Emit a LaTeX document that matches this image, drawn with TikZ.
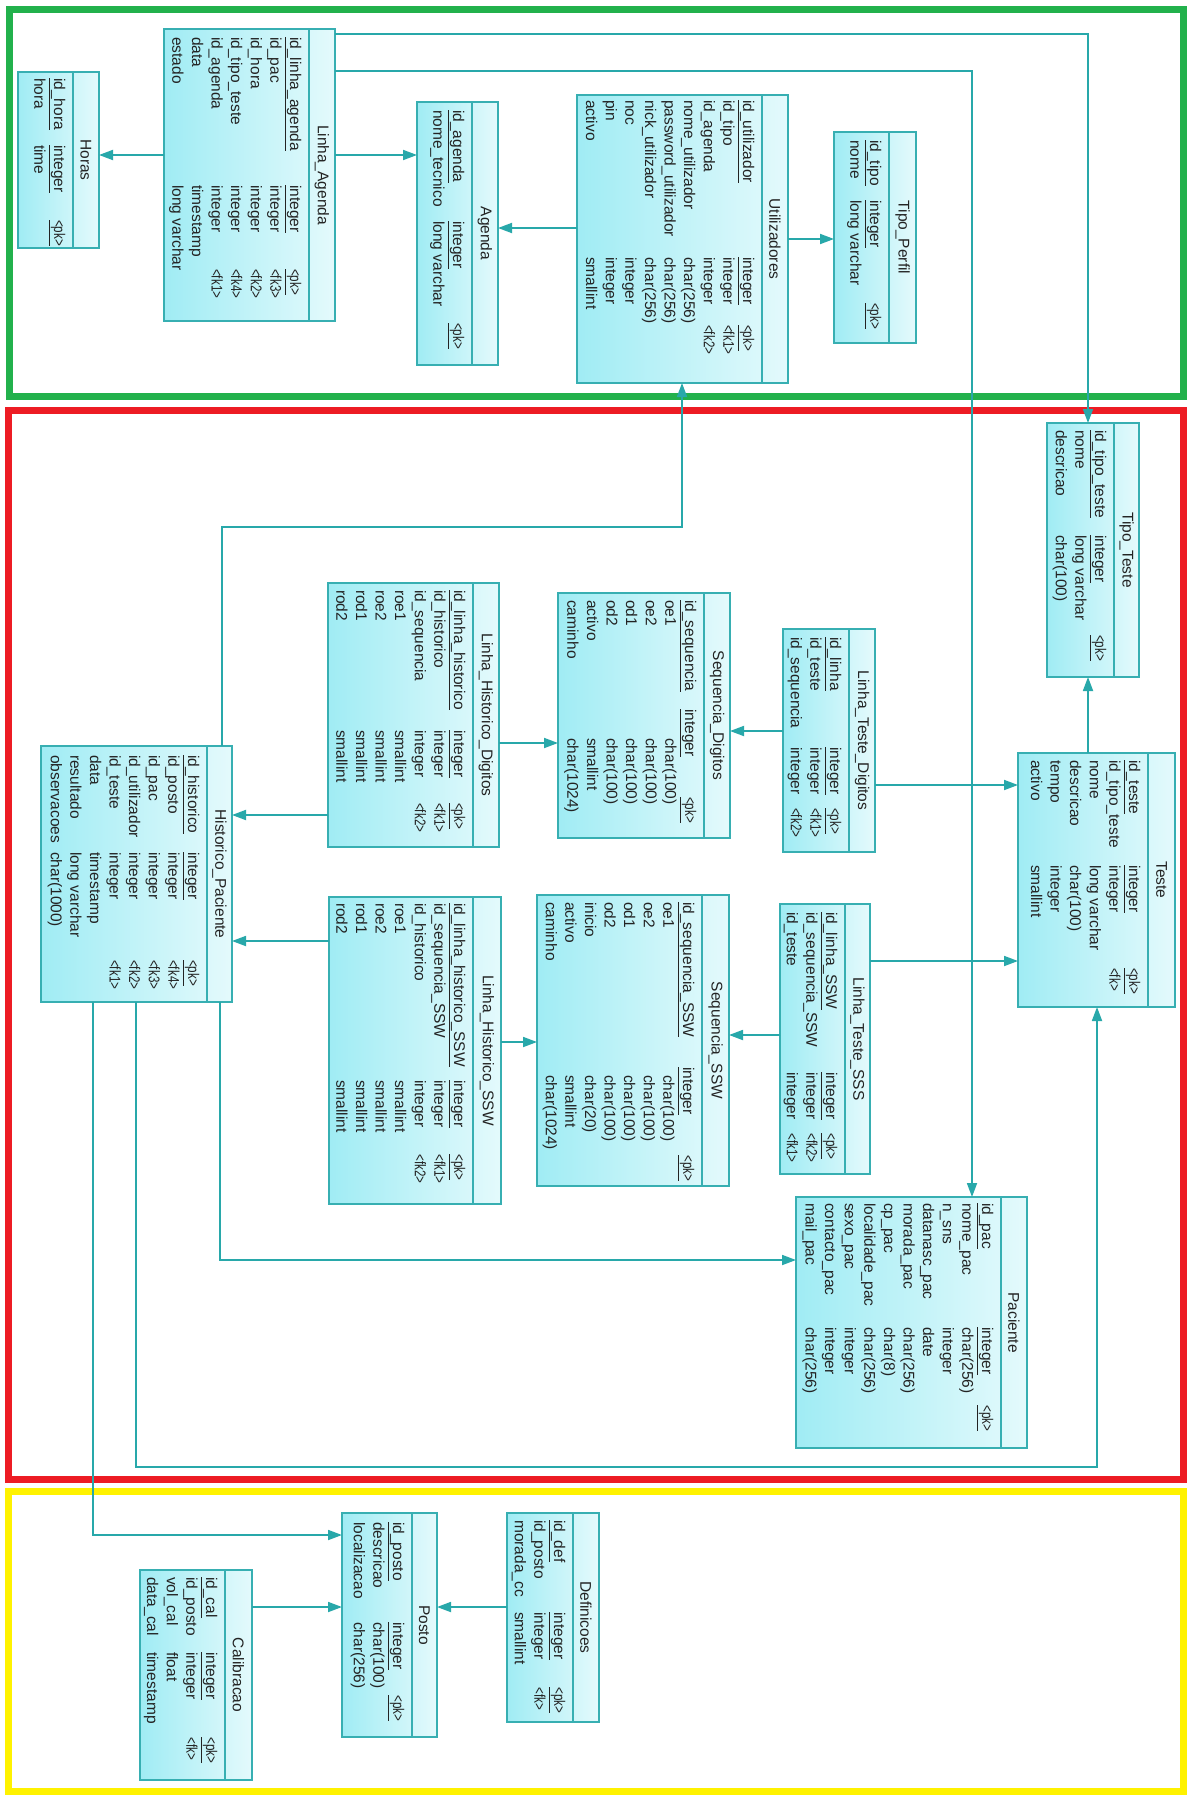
\documentclass[tikz,border=0pt]{standalone}
\usepackage{fontspec}
\setmainfont{Liberation Sans}
\usetikzlibrary{arrows.meta}
\definecolor{teal1}{RGB}{40,168,170}
\definecolor{boxedge}{RGB}{55,175,178}
\definecolor{fillA}{RGB}{160,236,244}
\definecolor{fillB}{RGB}{228,250,252}
\definecolor{frgreen}{RGB}{34,177,76}
\definecolor{frred}{RGB}{237,28,36}
\definecolor{fryellow}{RGB}{255,242,0}
\definecolor{txt}{RGB}{35,35,35}
\tikzset{
  ebox/.style={draw=boxedge, line width=1.6pt, left color=fillA, right color=fillB, inner sep=0pt, outer sep=0pt},
  sepline/.style={draw=boxedge, line width=1.6pt},
  ttl/.style={rotate=-90, inner sep=0pt, font=\fontsize{15.5}{18}\selectfont, text=txt},
  fld/.style={rotate=-90, anchor=west, inner sep=0pt, font=\fontsize{15.5}{18}\selectfont, text=txt, text height=11pt, text depth=3pt},
  conn/.style={draw=teal1, line width=1.8pt, -{Triangle[length=14pt,width=10pt]}},
  frameline/.style={line width=7pt},
}
\newcommand\ent[7]{%
  \node[ebox, minimum width={(#4-#2)*1pt}, minimum height={(#5-#3)*1pt}] (#1) at ({(#2+#4)/2},{-(#3+#5)/2}) {};
  \draw[sepline] (#6,-#3) -- (#6,-#5);
  \node[ttl] (#1-title) at ({(#6+#4)/2},{-(#3+#5)/2}) {#7};
  \xdef\eSx{#6}\xdef\eBn{#1}}
\newcommand\ecols[3]{\xdef\eCn{#1}\xdef\eCt{#2}\xdef\eCk{#3}}
\newcommand\erowx[1]{\pgfmathsetmacro\myrx{\eSx-15-19.6*(#1-1)}}
\newcommand\kk[1]{\scalebox{0.75}[1]{#1}}
\newcommand\rk[4]{%
  \erowx{#1}%
  \node[fld] (\eBn-#1n) at (\myrx,-\eCn) {#2};
  \node[fld] (\eBn-#1t) at (\myrx,-\eCt) {#3};
  \node[fld] (\eBn-#1k) at (\myrx,-\eCk) {\kk{#4}};}
\newcommand\rt[3]{%
  \erowx{#1}%
  \node[fld] (\eBn-#1n) at (\myrx,-\eCn) {#2};
  \node[fld] (\eBn-#1t) at (\myrx,-\eCt) {#3};}
\newcommand\rpk[2]{\rk{1}{\underline{#1}}{\underline{#2}}{\underline{<pk>}}}
\begin{document}
\begin{tikzpicture}[x=1pt,y=1pt]
\useasboundingbox (0,0) rectangle (1191,-1798);
\fill[white] (0,0) rectangle (1191,-1798);
% frames
\draw[frameline, frgreen] (9,-10) rectangle (1183,-396);
\draw[frameline, frred] (8,-410) rectangle (1183,-1479);
\draw[frameline, fryellow] (8,-1491) rectangle (1183,-1791);

% ---------- entities ----------
\ent{HO}{18}{72}{99}{248}{73}{Horas}
\ecols{78}{145}{220}
\rpk{id\_hora}{integer}
\rt{2}{hora}{time}

\ent{LA}{164}{29}{335}{321}{309}{Linha\_Agenda}
\ecols{37}{185}{269}
\rpk{id\_linha\_agenda}{integer}
\rk{2}{id\_pac}{integer}{<fk3>}
\rk{3}{id\_hora}{integer}{<fk2>}
\rk{4}{id\_tipo\_teste}{integer}{<fk4>}
\rk{5}{id\_agenda}{integer}{<fk1>}
\rt{6}{data}{timestamp}
\rt{7}{estado}{long varchar}

\ent{AG}{417}{102}{498}{365}{472}{Agenda}
\ecols{110}{221}{323}
\rpk{id\_agenda}{integer}
\rt{2}{nome\_tecnico}{long varchar}

\ent{UT}{577}{95}{788}{383}{762}{Utilizadores}
\ecols{100}{257}{325}
\rpk{id\_utilizador}{integer}
\rk{2}{id\_tipo}{integer}{<fk1>}
\rk{3}{id\_agenda}{integer}{<fk2>}
\rt{4}{nome\_utilizador}{char(256)}
\rt{5}{password\_utilizador}{char(256)}
\rt{6}{nick\_utilizador}{char(256)}
\rt{7}{noc}{integer}
\rt{8}{pin}{integer}
\rt{9}{activo}{smallint}

\ent{TP}{834}{132}{916}{343}{889}{Tipo\_Perfil}
\ecols{140}{200}{303}
\rpk{id\_tipo}{integer}
\rt{2}{nome}{long varchar}

\ent{TT}{1047}{423}{1139}{677}{1114}{Tipo\_Teste}
\ecols{430}{535}{635}
\rpk{id\_tipo\_teste}{integer}
\rt{2}{nome}{long varchar}
\rt{3}{descricao}{char(100)}

\ent{TE}{1018}{753}{1175}{1007}{1148}{Teste}
\ecols{760}{865}{968}
\rpk{id\_teste}{integer}
\rk{2}{id\_tipo\_teste}{integer}{<fk>}
\rt{3}{nome}{long varchar}
\rt{4}{descricao}{char(100)}
\rt{5}{tempo}{integer}
\rt{6}{activo}{smallint}

\ent{LHD}{328}{583}{499}{847}{473}{Linha\_Historico\_Digitos}
\ecols{590}{730}{803}
\rpk{id\_linha\_historico}{integer}
\rk{2}{id\_historico}{integer}{<fk1>}
\rk{3}{id\_sequencia}{integer}{<fk2>}
\rt{4}{roe1}{smallint}
\rt{5}{roe2}{smallint}
\rt{6}{rod1}{smallint}
\rt{7}{rod2}{smallint}

\ent{SD}{558}{593}{730}{838}{704}{Sequencia\_Digitos}
\ecols{600}{709}{797}
\rpk{id\_sequencia}{integer}
\ecols{600}{738}{797}
\rt{2}{oe1}{char(100)}
\rt{3}{oe2}{char(100)}
\rt{4}{od1}{char(100)}
\rt{5}{od2}{char(100)}
\rt{6}{activo}{smallint}
\rt{7}{caminho}{char(1024)}

\ent{LTD}{783}{629}{875}{852}{849}{Linha\_Teste\_Digitos}
\ecols{637}{747}{808}
\rpk{id\_linha}{integer}
\rk{2}{id\_teste}{integer}{<fk1>}
\rk{3}{id\_sequencia}{integer}{<fk2>}

\ent{HP}{41}{746}{232}{1002}{207}{Historico\_Paciente}
\ecols{755}{852}{960}
\rpk{id\_historico}{integer}
\rk{2}{id\_posto}{integer}{<fk4>}
\rk{3}{id\_pac}{integer}{<fk3>}
\rk{4}{id\_utilizador}{integer}{<fk2>}
\rk{5}{id\_teste}{integer}{<fk1>}
\rt{6}{data}{timestamp}
\rt{7}{resultado}{long varchar}
\rt{8}{observacoes}{char(1000)}

\ent{LHS}{329}{897}{501}{1204}{473}{Linha\_Historico\_SSW}
\ecols{903}{1080}{1154}
\rpk{id\_linha\_historico\_SSW}{integer}
\rk{2}{id\_sequencia\_SSW}{integer}{<fk1>}
\rk{3}{id\_historico}{integer}{<fk2>}
\rt{4}{roe1}{smallint}
\rt{5}{roe2}{smallint}
\rt{6}{rod1}{smallint}
\rt{7}{rod2}{smallint}

\ent{SSW}{537}{895}{729}{1186}{702}{Sequencia\_SSW}
\ecols{902}{1067}{1155}
\rpk{id\_sequencia\_SSW}{integer}
\ecols{902}{1075}{1155}
\rt{2}{oe1}{char(100)}
\rt{3}{oe2}{char(100)}
\rt{4}{od1}{char(100)}
\rt{5}{od2}{char(100)}
\rt{6}{inicio}{char(20)}
\rt{7}{activo}{smallint}
\rt{8}{caminho}{char(1024)}

\ent{LTS}{780}{904}{870}{1174}{845}{Linha\_Teste\_SSS}
\ecols{912}{1072}{1133}
\rpk{id\_linha\_SSW}{integer}
\rk{2}{id\_sequencia\_SSW}{integer}{<fk2>}
\rk{3}{id\_teste}{integer}{<fk1>}

\ent{PA}{796}{1197}{1027}{1448}{1001}{Paciente}
\ecols{1203}{1327}{1405}
\rpk{id\_pac}{integer}
\rt{2}{nome\_pac}{char(256)}
\rt{3}{n\_sns}{integer}
\rt{4}{datanasc\_pac}{date}
\rt{5}{morada\_pac}{char(256)}
\rt{6}{cp\_pac}{char(8)}
\rt{7}{localidade\_pac}{char(256)}
\rt{8}{sexo\_pac}{integer}
\rt{9}{contacto\_pac}{integer}
\rt{10}{mail\_pac}{char(256)}

\ent{CA}{140}{1570}{252}{1780}{225}{Calibracao}
\ecols{1577}{1652}{1737}
\rpk{id\_cal}{integer}
\rk{2}{id\_posto}{integer}{<fk>}
\rt{3}{vol\_cal}{float}
\rt{4}{data\_cal}{timestamp}

\ent{PO}{342}{1513}{437}{1737}{412}{Posto}
\ecols{1522}{1622}{1695}
\rpk{id\_posto}{integer}
\rt{2}{descricao}{char(100)}
\rt{3}{localizacao}{char(256)}

\ent{DE}{507}{1513}{599}{1722}{573}{Definicoes}
\ecols{1520}{1612}{1687}
\rpk{id\_def}{integer}
\rk{2}{id\_posto}{integer}{<fk>}
\rt{3}{morada\_cc}{smallint}

% ---------- connectors ----------
\draw[conn] (LA.west |- 0,-155) -- (HO.east |- 0,-155);
\draw[conn] (LA.east |- 0,-155) -- (AG.west |- 0,-155);
\draw[conn] (UT.west |- 0,-228) -- (AG.east |- 0,-228);
\draw[conn] (UT.east |- 0,-239) -- (TP.west |- 0,-239);
\draw[conn] (LA.east |- 0,-34) -| (TT.north -| 1088,0);
\draw[conn] (LA.east |- 0,-71) -| (PA.north -| 972,0);
\draw[conn] (TE.north -| 1088,0) -- (TT.south -| 1088,0);
\draw[conn] (HP.north -| 222,0) |- (682,-527) -- (UT.south -| 682,0);
\draw[conn] (LHD.west |- 0,-815) -- (HP.east |- 0,-815);
\draw[conn] (LHS.west |- 0,-941) -- (HP.east |- 0,-941);
\draw[conn] (LHD.east |- 0,-743) -- (SD.west |- 0,-743);
\draw[conn] (LTD.west |- 0,-731) -- (SD.east |- 0,-731);
\draw[conn] (LTD.east |- 0,-785) -- (TE.west |- 0,-785);
\draw[conn] (LHS.east |- 0,-1042) -- (SSW.west |- 0,-1042);
\draw[conn] (LTS.west |- 0,-1035) -- (SSW.east |- 0,-1035);
\draw[conn] (LTS.east |- 0,-961) -- (TE.west |- 0,-961);
\draw[conn] (HP.south -| 220,0) |- (PA.west |- 0,-1260);
\draw[conn] (HP.south -| 136,0) |- (1097,-1467) -- (TE.south -| 1097,0);
\draw[conn] (HP.south -| 93,0) |- (PO.west |- 0,-1535);
\draw[conn] (CA.east |- 0,-1607) -- (PO.west |- 0,-1607);
\draw[conn] (DE.west |- 0,-1607) -- (PO.east |- 0,-1607);
\end{tikzpicture}
\end{document}
